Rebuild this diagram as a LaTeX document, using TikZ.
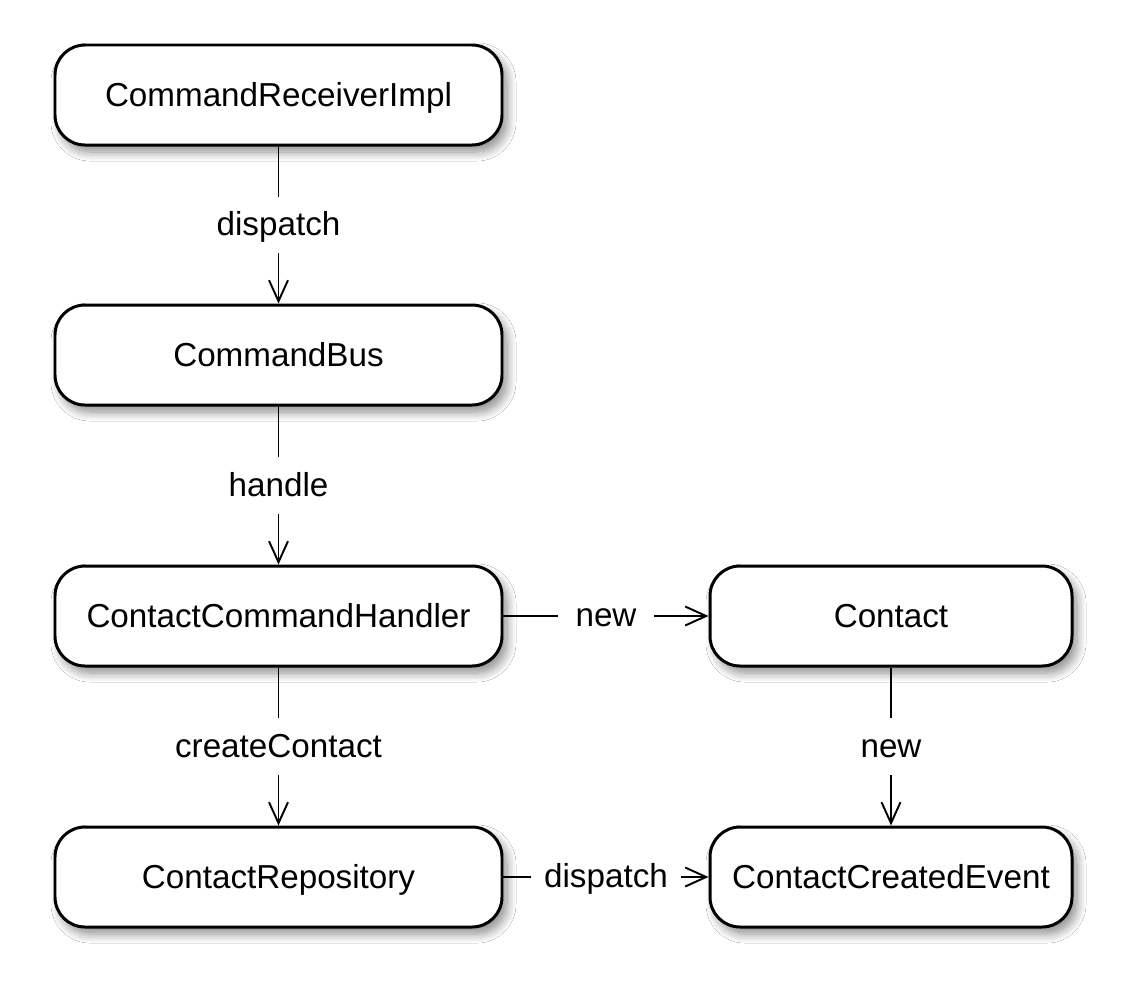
\documentclass[tikz,border=0pt]{standalone}
\usepackage{fontspec}
\setmainfont{Liberation Sans}
\usetikzlibrary{arrows.meta,shadows.blur}

\tikzset{
  cls/.style={draw,line width=1.7pt,rounded corners=0.6cm,fill=white,
    minimum height=2cm,align=center,text height=13.6pt,text depth=0pt,
    blur shadow={shadow xshift=0.1cm,shadow yshift=-0.14cm,shadow blur steps=10,shadow blur radius=0.18cm,shadow opacity=45}},
  call/.style={line width=1.1pt,-{Straight Barb[length=0.42cm,width=0.38cm,line width=1.1pt]}},
  lbl/.style={fill=white,inner xsep=0.3cm,inner ysep=0.28cm,text height=14pt,text depth=2pt}
}

\begin{document}
\begin{tikzpicture}[x=1cm,y=1cm,font=\fontsize{18.9}{22}\selectfont]
\useasboundingbox[fill=white] (0,0) rectangle (22.54,-19.88);
\node[cls,minimum width=8.94cm] (receiver) at (5.57,-1.9) {CommandReceiverImpl};
\node[cls,minimum width=8.94cm] (bus) at (5.57,-7.1) {CommandBus};
\node[cls,minimum width=8.94cm] (handler) at (5.57,-12.32) {ContactCommandHandler};
\node[cls,minimum width=8.94cm] (repo) at (5.57,-17.54) {ContactRepository};
\node[cls,minimum width=7.24cm] (contact) at (17.82,-12.32) {Contact};
\node[cls,minimum width=7.24cm] (event) at (17.82,-17.54) {ContactCreatedEvent};
\draw[call] (receiver) -- node[lbl] {dispatch} (bus);
\draw[call] (bus) -- node[lbl] {handle} (handler);
\draw[call] (handler) -- node[lbl] {createContact} (repo);
\draw[call] (handler) -- node[lbl,inner xsep=0.36cm] {new} (contact);
\draw[call] (contact) -- node[lbl] {new} (event);
\draw[call] (repo) -- node[lbl,inner xsep=0.26cm] {dispatch} (event);
\end{tikzpicture}
\end{document}
